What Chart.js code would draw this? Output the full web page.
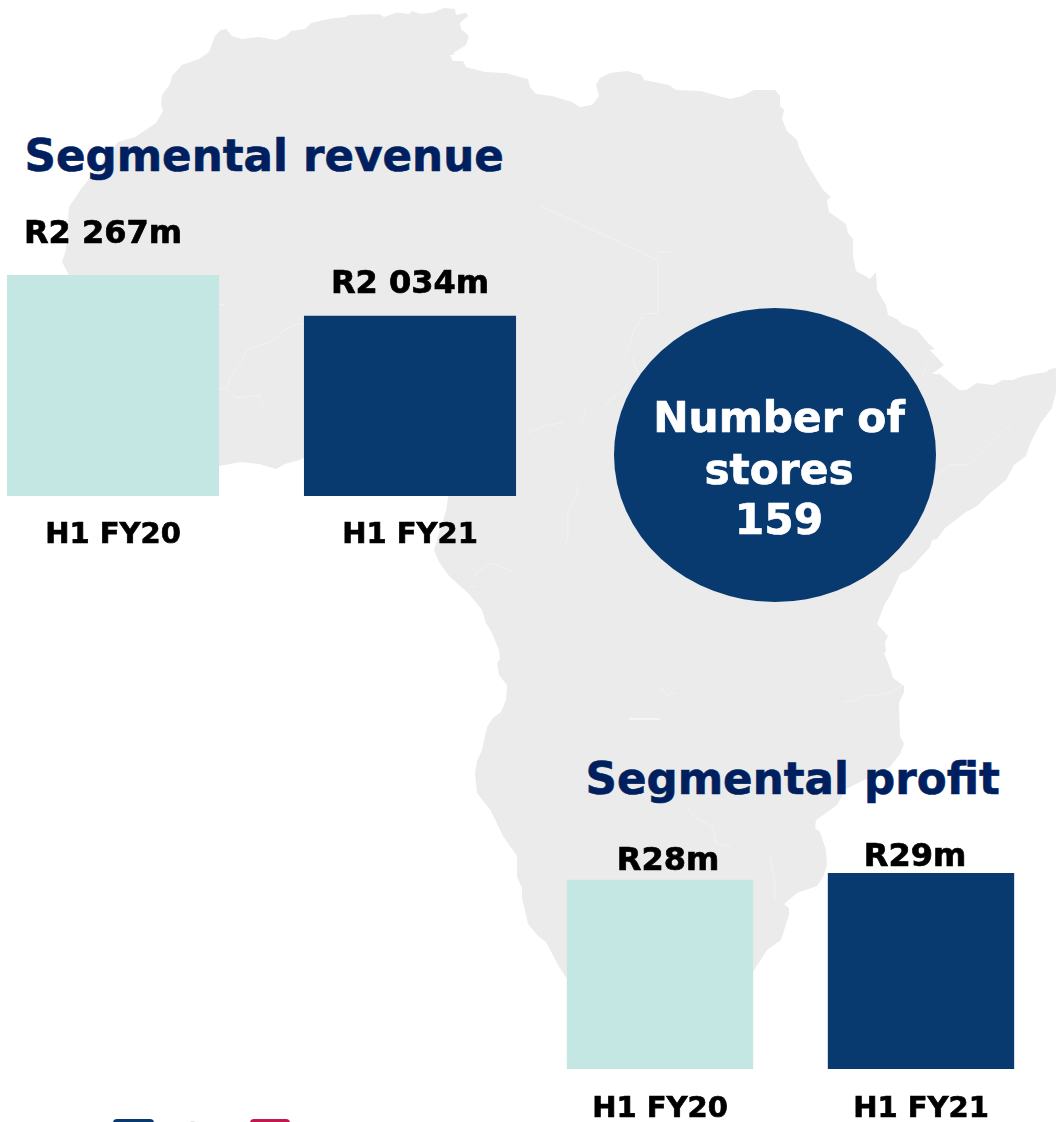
<!DOCTYPE html>
<html>
<head>
<meta charset="utf-8">
<script src="https://cdn.jsdelivr.net/npm/chart.js@4"></script>
<style>
html,body{margin:0;padding:0;background:#fff;}
body{position:relative;width:1056px;height:1122px;overflow:hidden;font-family:"DejaVu Sans",sans-serif;font-weight:bold;}
svg.map,canvas,.t,.c,.b{position:absolute;}
svg.map{left:0;top:0;}
.t{color:#001F5F;font-size:43.6px;line-height:45px;white-space:nowrap;-webkit-text-stroke:0.6px #001F5F;}
.c{left:614px;top:308px;width:322px;height:294px;border-radius:50%;background:#083A70;}
.cl{position:absolute;left:4px;width:322px;text-align:center;color:#fff;font-size:42.3px;line-height:50px;white-space:nowrap;-webkit-text-stroke:0.7px #fff;}
.b{top:1119px;height:12px;border-radius:4px;}
</style>
</head>
<body>
<svg class="map" width="1056" height="1122" viewBox="0 0 1056 1122">
<path fill="#EBEBEB" d="M215 36L221 30L226 29L232 36L242 39L259 37L276 40L286 36L291 31L305 29L311 23L328 19L345 17L350 15L379 14L384 17L397 12.5L409 14L412 11L421 14L433 12.5L444 8L455 9L456 15L466 12.5L468 16L460 23L461 29L469 36L466 45L455 52L453 55L450 55L453 61L463 61L466 67L485 72L505 73L528 79L530 87L536 94L552 96L572 102L580 107L592 105L599 96L596 85L600 78L610 73L627 71L642 75L644 80L669 85L676 90L700 91L730 99L742 96L754 90L775 90L780 96L780 106L784 110L782 119L787 131L797 140L799 147L806 162L823 190L831 197L827 200L829 212L846 224L848 233L853 239L853 256L856 271L865 276L870 279L876 272L877 290L886 305L888 315L897 319L902 324L917 330L929 344L935 349L930 350L944 365L932 374L940 374L959 390L966 390L977 383L993 385L1003 380L1013 380L1023 376L1046 372L1050 369L1056 368L1056 392L1052 408L1040 424L1030 444L1026 456L1014 465L1006 480L989 494L977 506L966 512L945 528L937 539L932 540L930 547L910 569L900 574L890 596L885 603L877 624L888 636L885 642L886 651L884 653L890 668L893 678L904 686L904 692L899 703L900 736L904 744L900 754L890 767L864 780L846 789L837 805L816 820L815 828L820 832L826 850L827 865L823 877L817 886L797 893L784 904L789 908L789 915L781 940L767 950L753 972L720 1010L610 1010L567 979L558 965L546 942L538 936L528 924L524 906L522 899L522 888L517 877L517 856L503 836L491 811L477 793L475 773L477 761L482 750L487 727L493 718L501 712L506 700L507 685L499 675L497 663L500 659L499 650L492 633L486 623L482 610L469 594L449 576L439 562L434 550L446 511L449 492L380 470L304 458L296 461L285 464L276 469L259 464L241 462L219 466L130 455L70 420L40 340L69 275L62 262L66 250L69 207L81 189L89 179L118 142L135 137L156 123L163 111L161 104L162 95L170 84L172 76L182 65L199 59L209 52Z"/>
<g fill="none" stroke="#F2F2F2" stroke-width="1">
<path d="M541 206L658 260L658 313L642 314L641 321L633 331L632 339L628 346L626 356"/>
<path d="M633 356L634 364L639 376"/>
<path d="M627 383L624 390L614 397L605 406"/>
<path d="M584 410L586 415L579 422"/>
<path d="M528 433L545 426L565 422"/>
<path d="M578 485L578 492L568 512L568 535L565 546"/>
<path d="M935 476L950 465L969 465L1013 422"/>
<path d="M927 364L922 378"/>
<path d="M658 252L673 252"/>
<path d="M304 324L298 324L286 329L269 343L247 349L242 362L229 379L227 389L236 398L259 395L264 407"/>
<path d="M219 304L226 305"/>
<path d="M219 389L227 389"/>
<path d="M676 693L666 695L663 689L660 689"/>
<path d="M902 685L891 692L873 696L864 695L859 700L843 702"/>
<path d="M491 563L476 573L474 578"/>
<path d="M491 563L501 567L511 571"/>
<path d="M469 587L476 586"/>
<path d="M770 856L775 883L775 900"/>
<path d="M685 805L696 818L713 827L716 843L731 847"/>
<path d="M629 719L660 719" stroke="#FFFFFF"/>
</g>
</svg>

<div class="t" style="left:24.5px;top:134px;">Segmental revenue</div>
<div class="t" style="left:585.5px;top:757px;">Segmental profit</div>

<canvas id="revenueChart" width="640" height="600" style="left:-40px;top:0;"></canvas>
<canvas id="profitChart" width="556" height="1122" style="left:500px;top:0;"></canvas>

<div class="c">
  <div class="cl" style="top:85px;">Number of</div>
  <div class="cl" style="top:137px;">stores</div>
  <div class="cl" style="top:187px;">159</div>
</div>

<div class="b" style="left:113px;width:41px;background:#083A70;"></div>
<div class="b" style="left:250px;width:40px;background:#C5174F;"></div>
<div class="b" style="left:189px;width:7px;top:1121px;background:#E4E4E4;"></div>

<script>
const revenueCategories = ["H1 FY20", "H1 FY21"];
const revenueValues = [2267, 2034];
const revenueLabels = ["R2 267m", "R2 034m"];

const profitCategories = ["H1 FY20", "H1 FY21"];
const profitValues = [28, 29];
const profitLabels = ["R28m", "R29m"];

const barColors = ["#C4E7E4", "#083A70"];

const valueLabelPlugin = {
  id: "valueLabels",
  afterDatasetsDraw(chart, args, opts) {
    const ctx = chart.ctx;
    const bars = chart.getDatasetMeta(0).data;
    ctx.save();
    ctx.font = 'bold 32px "DejaVu Sans"';
    ctx.fillStyle = "#000";
    ctx.strokeStyle = "#000";
    ctx.lineWidth = 0.7;
    ctx.textAlign = "center";
    ctx.textBaseline = "alphabetic";
    bars.forEach((bar, i) => {
      const x = bar.x + opts.dx[i], y = bar.y - opts.gap[i];
      ctx.strokeText(opts.labels[i], x, y);
      ctx.fillText(opts.labels[i], x, y);
    });
    ctx.restore();
  }
};

function drawBars(id, categories, values, yMin, yMax, pad, axisHeight, tickPad, labelOpts) {
  return new Chart(document.getElementById(id), {
    type: "bar",
    data: {
      labels: categories,
      datasets: [{
        data: values,
        backgroundColor: barColors,
        borderWidth: 0,
        barPercentage: 0.714,
        categoryPercentage: 1
      }]
    },
    options: {
      responsive: false,
      animation: false,
      layout: { padding: pad },
      plugins: {
        legend: { display: false },
        tooltip: { enabled: false },
        valueLabels: labelOpts
      },
      scales: {
        y: { display: false, min: yMin, max: yMax },
        x: {
          grid: { display: false, drawTicks: false },
          border: { display: false },
          ticks: {
            color: "#000",
            textStrokeColor: "#000",
            textStrokeWidth: 0.7,
            padding: tickPad,
            maxRotation: 0,
            font: { family: '"DejaVu Sans"', size: 29, weight: "bold" }
          },
          afterFit(s) { s.height = axisHeight; }
        }
      }
    },
    plugins: [valueLabelPlugin]
  });
}

drawBars("revenueChart", revenueCategories, revenueValues, 1000, 2267,
  { left: 4.5, right: 41.5, top: 275, bottom: 0 }, 104, 22,
  { labels: revenueLabels, dx: [-10, 0], gap: [32, 23] });

drawBars("profitChart", profitCategories, profitValues, 0, 29,
  { left: 29.5, right: 4.5, top: 873, bottom: 0 }, 53, 23,
  { labels: profitLabels, dx: [8, -6], gap: [10, 7] });
</script>
</body>
</html>
